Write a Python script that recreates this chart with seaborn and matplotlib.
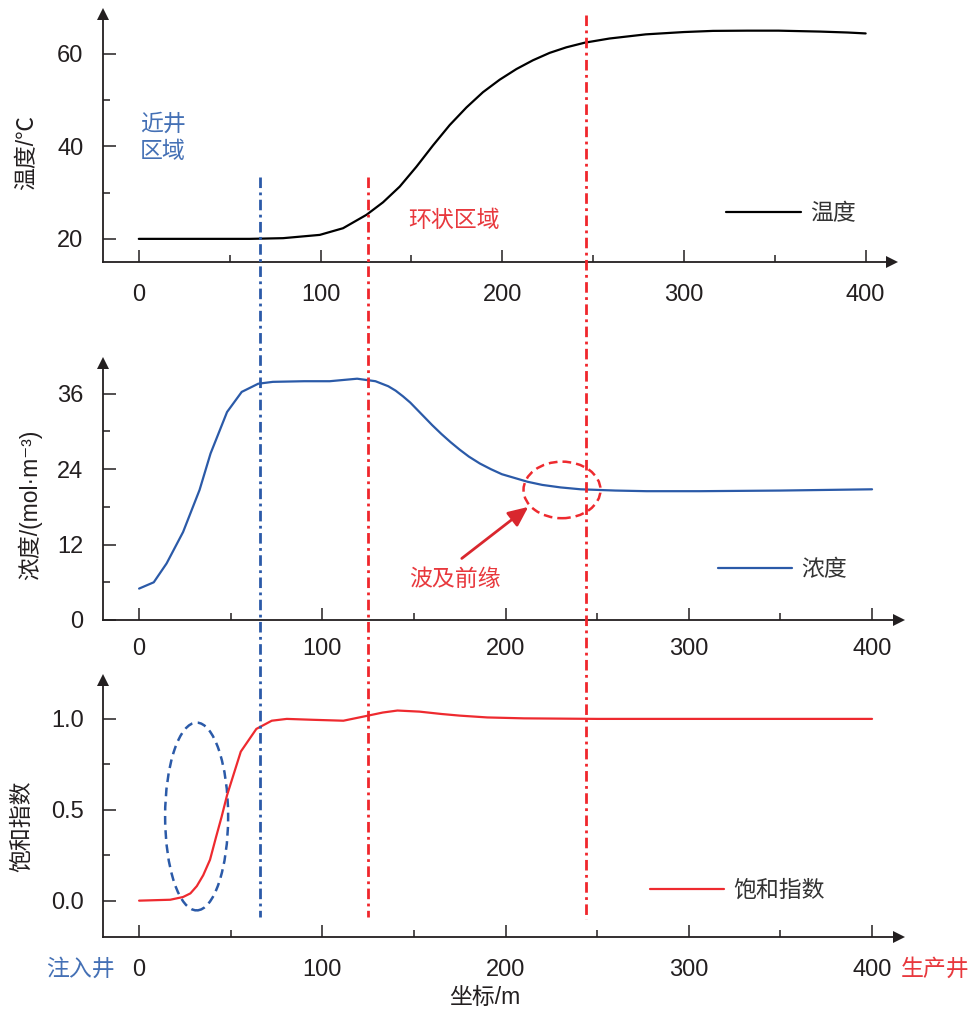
import numpy as np
import pandas as pd
import seaborn as sns
import matplotlib
matplotlib.use("Agg")
import matplotlib.pyplot as plt
from matplotlib.lines import Line2D
from matplotlib.patches import Ellipse
from matplotlib.ticker import FixedLocator
import matplotlib.transforms as mtransforms

# ---------------- data ----------------
temp_x = [0, 40, 61, 79.4, 99.6, 112.4, 125.3, 134.4, 143.6, 152.8, 161.9, 171.1, 180.3,
          189.4, 198.6, 207.8, 216.9, 226.1, 235.3, 245.4, 259, 279, 300, 316, 335, 352,
          375, 390, 400]
temp_y = [20, 20, 20.0, 20.15, 20.86, 22.3, 25.2, 27.9, 31.3, 35.6, 40.2, 44.6, 48.4,
          51.7, 54.4, 56.7, 58.6, 60.2, 61.4, 62.4, 63.3, 64.2, 64.7, 64.95, 65.0, 65.0,
          64.8, 64.6, 64.4]

conc_x = [0, 8, 15, 24, 33, 39, 48, 56, 65, 73, 90, 104, 119, 129, 136, 140, 144, 148,
          152, 156, 160, 165, 170, 175, 180, 186, 192, 198, 205, 212, 220, 230, 241, 260,
          277, 306, 350, 400]
conc_y = [5.0, 6.0, 9.0, 14.0, 20.7, 26.5, 33.1, 36.3, 37.6, 37.9, 38.0, 38.0, 38.4, 38.0,
          37.2, 36.5, 35.6, 34.6, 33.4, 32.2, 31.0, 29.6, 28.3, 27.1, 26.0, 24.9, 24.0,
          23.2, 22.6, 22.0, 21.5, 21.1, 20.8, 20.6, 20.5, 20.5, 20.6, 20.8]

sat_x = [0, 17, 24, 28, 31.5, 35, 38.7, 42, 45, 48, 55.5, 64, 72.4, 80.6, 95, 111.5, 124,
         133, 141, 153, 165, 175, 190, 210, 250, 300, 400]
sat_y = [0, 0.005, 0.02, 0.04, 0.08, 0.14, 0.225, 0.35, 0.46, 0.58, 0.82, 0.945, 0.99,
         1.0, 0.995, 0.99, 1.016, 1.035, 1.046, 1.04, 1.027, 1.018, 1.008, 1.003, 1.0,
         1.0, 1.0]

x_major = [0, 100, 200, 300, 400]
x_minor = [50, 150, 250, 350]
temp_major = [20, 40, 60]
temp_minor = [30, 50]
conc_major = [0, 12, 24, 36]
conc_minor = [6, 18, 30]
sat_major = [0.0, 0.5, 1.0]
sat_minor = [0.25, 0.75]

# zone boundaries (x, m)
near_well_edge = 66
ring_start = 125
ring_end = 244

# ---------------- style ----------------
sns.set_theme(style="white")
plt.rcParams["font.family"] = ["Liberation Sans", "Noto Sans CJK SC", "DejaVu Sans"]
plt.rcParams["axes.unicode_minus"] = False

INK = "#231f20"
BLUE_LINE = "#2b5aa8"
BLUE_TXT = "#4470b5"
RED_LINE = "#ee2a2f"
RED_TXT = "#e8383d"

W, H = 971, 1014
fig = plt.figure(figsize=(W / 100, H / 100), dpi=100)

def rect(left, top, right, bottom):
    return [left / W, 1 - bottom / H, (right - left) / W, (bottom - top) / H]

ax1 = fig.add_axes(rect(103, 14, 892, 262))
ax2 = fig.add_axes(rect(103, 363, 898.6, 620))
ax3 = fig.add_axes(rect(103, 680, 898.6, 937))

xlim = (-19.7, 414.5)

def style_axis(ax, ylim, ymaj, ymin, xpad):
    ax.set_xlim(*xlim)
    ax.set_ylim(*ylim)
    for s in ["top", "right"]:
        ax.spines[s].set_visible(False)
    for s in ["left", "bottom"]:
        ax.spines[s].set_color(INK)
        ax.spines[s].set_linewidth(1.3)
    ax.xaxis.set_major_locator(FixedLocator(x_major))
    ax.xaxis.set_minor_locator(FixedLocator(x_minor))
    ax.yaxis.set_major_locator(FixedLocator(ymaj))
    ax.yaxis.set_minor_locator(FixedLocator(ymin))
    ax.tick_params(which="major", direction="in", length=9, width=1.1, color=INK,
                   labelsize=17, labelcolor=INK)
    ax.tick_params(which="minor", direction="in", length=5, width=1.1, color=INK)
    ax.tick_params(axis="x", which="major", pad=xpad)
    ax.tick_params(axis="y", which="major", pad=14)
    ax.tick_params(bottom=True, left=True, which="both")
    ax.grid(False)
    ax.set_facecolor("none")
    # arrow heads at the axis ends
    ax.plot([1], [0], marker=">", color=INK, markersize=9, transform=ax.transAxes,
            clip_on=False, markeredgewidth=0)
    ax.plot([0], [1], marker="^", color=INK, markersize=9, transform=ax.transAxes,
            clip_on=False, markeredgewidth=0)

style_axis(ax1, (15.0, 68.6), temp_major, temp_minor, 16)
style_axis(ax2, (0, 40.9), conc_major, conc_minor, 13)
style_axis(ax3, (-0.2, 1.214), sat_major, sat_minor, 16)
ax1.set_yticklabels(["20", "40", "60"])
ax2.set_yticklabels(["0", "12", "24", "36"])
ax3.set_yticklabels(["0.0", "0.5", "1.0"])

# ---------------- curves ----------------
df_t = pd.DataFrame({"x": temp_x, "y": temp_y})
df_c = pd.DataFrame({"x": conc_x, "y": conc_y})
df_s = pd.DataFrame({"x": sat_x, "y": sat_y})
sns.lineplot(data=df_t, x="x", y="y", ax=ax1, color="black", linewidth=1.6, label="温度")
sns.lineplot(data=df_c, x="x", y="y", ax=ax2, color=BLUE_LINE, linewidth=1.6, label="浓度")
sns.lineplot(data=df_s, x="x", y="y", ax=ax3, color=RED_LINE, linewidth=1.6, label="饱和指数")

for ax, (lx, ly) in zip([ax1, ax2, ax3], [(0.790, 0.194), (0.773, 0.196), (0.687, 0.182)]):
    leg = ax.legend(loc="center left", bbox_to_anchor=(lx, ly), frameon=False,
                    borderpad=0, borderaxespad=0, handlelength=3.25, handletextpad=0.4,
                    fontsize=16.5)
    for t in leg.get_texts():
        t.set_color("#333333")

ax1.set_xlabel("")
ax2.set_xlabel("")
ax3.set_xlabel("坐标/m", fontsize=16.5, color=INK, va="center")
ax3.xaxis.set_label_coords(0.48, -0.237)

ax1.set_ylabel("温度/℃", fontsize=16.5, color=INK, va="center")
ax1.yaxis.set_label_coords(-0.096, 0.44)
ax2.set_ylabel("浓度/(mol·m⁻³)", fontsize=16.5, color=INK, va="center")
ax2.yaxis.set_label_coords(-0.092, 0.447)
ax3.set_ylabel("饱和指数", fontsize=16.5, color=INK, va="center")
ax3.yaxis.set_label_coords(-0.102, 0.432)

# ---------------- annotations ----------------
ax1.text(0.5, 41.8, "近井\n区域", color=BLUE_TXT, fontsize=16.5, ha="left", va="center",
         linespacing=1.25)
ax1.text(173.3, 23.9, "环状区域", color=RED_TXT, fontsize=16.5, ha="center", va="center")

ax2.add_patch(Ellipse((230.8, 20.7), 42, 9.0, fill=False, edgecolor=RED_LINE,
                      linewidth=1.8, linestyle=(0, (3.5, 2))))
ax2.annotate("", xy=(212.4, 18.0), xytext=(176.1, 9.8),
             arrowprops=dict(arrowstyle="-|>,head_length=1.0,head_width=0.45",
                             color="#d9272e", linewidth=2.0, shrinkA=0, shrinkB=0))
ax2.text(172.4, 6.4, "波及前缘", color=RED_TXT, fontsize=16.5, ha="center", va="center")

ax3.add_patch(Ellipse((31.4, 0.463), 34.4, 1.033, fill=False, edgecolor=BLUE_LINE,
                      linewidth=1.8, linestyle=(0, (3.5, 2.2))))

blend3 = mtransforms.blended_transform_factory(ax3.transData, ax3.transAxes)
ax3.text(-13.5, -0.1245, "注入井", color=BLUE_TXT, fontsize=16.5, ha="right", va="center",
         transform=blend3)
ax3.text(415.5, -0.1245, "生产井", color=RED_TXT, fontsize=16.5, ha="left", va="center",
         transform=blend3)

# ---------------- zone boundary lines through all panels ----------------
def to_fig(ax, x, y):
    return fig.transFigure.inverted().transform(ax.transData.transform((x, y)))

boundaries = [
    (near_well_edge, 33.4, -0.088, BLUE_LINE),
    (ring_start, 33.4, -0.088, "#f0262c"),
    (ring_end, 68.4, -0.1, "#f0262c"),
]
for xb, ytop, ybot, col in boundaries:
    _, fy_top = to_fig(ax1, xb, ytop)
    fx, _ = to_fig(ax2, xb, 0)
    _, fy_bot = to_fig(ax3, xb, ybot)
    fig.add_artist(Line2D([fx, fx], [fy_top, fy_bot], transform=fig.transFigure,
                          color=col, linewidth=2.0, linestyle=(0, (3.8, 1.6, 1.0, 1.6))))

fig.savefig("out.png", dpi=100)
